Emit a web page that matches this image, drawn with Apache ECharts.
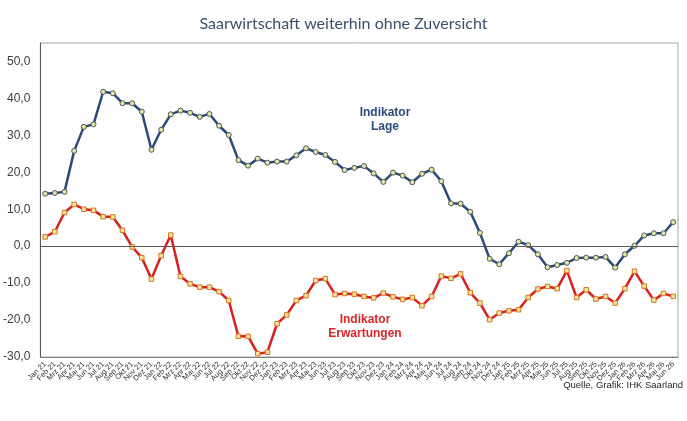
<!DOCTYPE html>
<html>
<head>
<meta charset="utf-8">
<title>Saarwirtschaft weiterhin ohne Zuversicht</title>
<script src="https://cdn.jsdelivr.net/npm/echarts@6/dist/echarts.min.js"></script>
<style>
  html, body { margin: 0; padding: 0; background: #fff; }
  #chart { width: 687px; height: 421px; }
</style>
</head>
<body>
<div id="chart"></div>
<script>
// Monatsnamen und Jahre fuer die Kategorienachse
var monthNames = ['Jan', 'Feb', 'Mrz', 'Apr', 'Mai', 'Jun', 'Jul', 'Aug', 'Sep', 'Okt', 'Nov', 'Dez'];
var years = ['21', '22', '23', '24', '25', '26'];
var months = [];
years.forEach(function (y) {
  monthNames.forEach(function (m) { months.push(m + ' ' + y); });
});
months = months.slice(0, 66); // Jan 21 .. Jun 26

// Indikator Lage
var lage = [
  14.2, 14.4, 14.7, 25.8, 32.3, 33.0, 41.8, 41.4, 38.7, 38.7, 36.4, 26.1,
  31.5, 35.7, 36.7, 36.1, 35.0, 35.8, 32.6, 30.1, 23.3, 21.8, 23.7, 22.6,
  22.9, 22.9, 24.6, 26.5, 25.5, 24.7, 22.8, 20.6, 21.2, 21.7, 19.7, 17.4,
  19.9, 19.1, 17.3, 19.6, 20.7, 17.6, 11.6, 11.5, 9.3, 3.6, -3.4, -4.9,
  -1.9, 1.2, 0.3, -2.2, -5.7, -5.1, -4.5, -3.2, -3.1, -3.1, -2.9, -5.8,
  -2.2, 0.1, 2.9, 3.5, 3.5, 6.5
];

// Indikator Erwartungen
var erwartungen = [
  2.5, 3.9, 9.1, 11.3, 10.0, 9.7, 8.0, 7.9, 4.3, -0.2, -3.1, -8.9,
  -2.6, 3.0, -8.2, -10.2, -11.1, -11.1, -12.3, -14.7, -24.4, -24.4, -29.1, -28.7,
  -21.0, -18.6, -14.7, -13.4, -9.3, -8.8, -13.1, -12.8, -13.0, -13.6, -14.0, -12.7,
  -13.7, -14.4, -13.9, -16.1, -13.6, -8.1, -8.7, -7.5, -12.6, -15.4, -19.9, -18.1,
  -17.5, -17.2, -13.9, -11.6, -10.9, -11.5, -6.6, -13.9, -11.8, -14.3, -13.6, -15.4,
  -11.5, -6.8, -10.8, -14.6, -12.8, -13.6
];

var chart = echarts.init(document.getElementById('chart'));

var option = {
  animation: false,
  backgroundColor: '#fff',
  textStyle: { fontFamily: 'Liberation Sans, Arial, sans-serif' },
  title: {
    text: 'Saarwirtschaft weiterhin ohne Zuversicht',
    left: 'center',
    top: 11,
    textStyle: { fontFamily: 'Lato', fontSize: 16, fontWeight: 'normal', color: '#3b5068' }
  },
  grid: {
    left: 38, right: 9, top: 43, bottom: 64,
    show: true, borderColor: '#a6a6a6', borderWidth: 1
  },
  xAxis: {
    type: 'category',
    data: months,
    boundaryGap: true,
    axisLine: { onZero: false, lineStyle: { color: '#7f7f7f' } },
    axisTick: { show: false },
    axisLabel: {
      interval: 0, rotate: 45, fontSize: 7.5, color: '#333', margin: 6
    },
    splitLine: { show: false }
  },
  yAxis: {
    type: 'value',
    min: -30, max: 55, interval: 10,
    axisLine: { show: true, lineStyle: { color: '#595959' } },
    axisTick: { show: false },
    splitLine: { show: false },
    axisLabel: {
      showMaxLabel: false,
      fontSize: 12, color: '#404040', margin: 10,
      formatter: function (v) { return v.toFixed(1).replace('.', ','); }
    }
  },
  series: [
    {
      name: 'Indikator Lage',
      type: 'line',
      data: lage,
      symbol: 'circle',
      symbolSize: 5,
      lineStyle: { color: '#2c4a78', width: 2.5 },
      itemStyle: { color: '#e4e6a4', borderColor: '#4a5a5a', borderWidth: 1 },
      z: 3,
      markLine: {
        silent: true,
        symbol: 'none',
        label: { show: false },
        lineStyle: { color: '#595959', width: 1, type: 'solid' },
        data: [{ yAxis: 0 }]
      }
    },
    {
      name: 'Indikator Erwartungen',
      type: 'line',
      data: erwartungen,
      symbol: 'rect',
      symbolSize: 4.5,
      lineStyle: { color: '#d91f1f', width: 2.5 },
      itemStyle: { color: '#f3e6a0', borderColor: '#d9731f', borderWidth: 1 },
      z: 3
    }
  ],
  graphic: [
    {
      type: 'text',
      x: 385, y: 106,
      style: {
        text: 'Indikator\nLage', align: 'center',
        font: 'bold 12px Liberation Sans', fill: '#2e4a7c', lineHeight: 14
      }
    },
    {
      type: 'text',
      x: 365, y: 313,
      style: {
        text: 'Indikator\nErwartungen', align: 'center',
        font: 'bold 12px Liberation Sans', fill: '#d8262a', lineHeight: 14
      }
    },
    {
      type: 'text',
      right: 4, top: 380,
      style: {
        text: 'Quelle, Grafik: IHK Saarland',
        font: '9.5px Liberation Sans', fill: '#262626'
      }
    }
  ]
};

chart.setOption(option);
</script>
</body>
</html>
